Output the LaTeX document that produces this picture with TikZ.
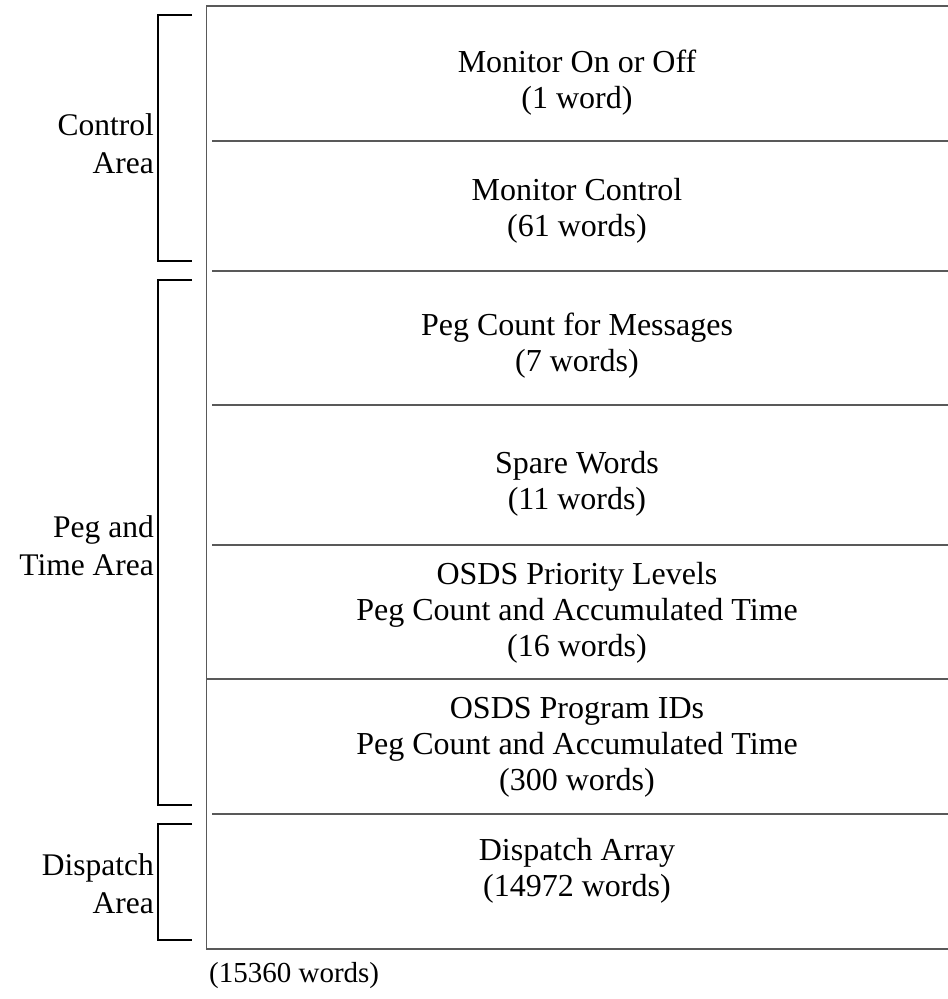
\documentclass[tikz,border=0pt]{standalone}
\usepackage{fontspec}
\setmainfont{Liberation Serif}
\begin{document}
\begin{tikzpicture}[x=1pt,y=-1pt,
  boxline/.style={draw=black!65,line width=1.7pt},
  bracketline/.style={draw=black,line width=1.1pt},
  cell/.style={align=center,font=\fontsize{32}{36}\selectfont,inner sep=0pt},
  side/.style={align=right,anchor=east,font=\fontsize{31.5}{38}\selectfont,inner sep=0pt}]
\useasboundingbox (0,0) rectangle (948,999);
% outer frame (open on the right)
\draw[boxline] (948,6) -- (206.5,6) -- (206.5,949) -- (948,949);
% cell dividers
\draw[boxline] (212,140.7) -- (948,140.7);
\draw[boxline] (212,270.7) -- (948,270.7);
\draw[boxline] (212,405) -- (948,405);
\draw[boxline] (212,545) -- (948,545);
\draw[boxline] (206.5,679) -- (948,679);
\draw[boxline] (212,814) -- (948,814);
% cell contents
\node[cell] (onoff) at (577,83) {Monitor On or Off\\(1 word)};
\node[cell] (mctl) at (577,211) {Monitor Control\\(61 words)};
\node[cell] (pegmsg) at (577,346) {Peg Count for Messages\\(7 words)};
\node[cell] (spare) at (577,484) {Spare Words\\(11 words)};
\node[cell] (prio) at (577,613) {OSDS Priority Levels\\Peg Count and Accumulated Time\\(16 words)};
\node[cell] (progid) at (577,747) {OSDS Program IDs\\Peg Count and Accumulated Time\\(300 words)};
\node[cell] (disp) at (577,871) {Dispatch Array\\(14972 words)};
\node[cell,anchor=west,font=\fontsize{29}{36}\selectfont] (total) at (209,976) {(15360 words)};
% area brackets
\draw[bracketline] (192,15) -- (158,15) -- (158,261) -- (192,261);
\draw[bracketline] (192,280) -- (158,280) -- (158,805) -- (192,805);
\draw[bracketline] (192,824) -- (158,824) -- (158,940) -- (192,940);
\node[side] (ctlarea) at (154,144) {Control\\Area};
\node[side] (pegarea) at (154,546) {Peg and\\Time Area};
\node[side] (disparea) at (154,884) {Dispatch\\Area};
\end{tikzpicture}
\end{document}
